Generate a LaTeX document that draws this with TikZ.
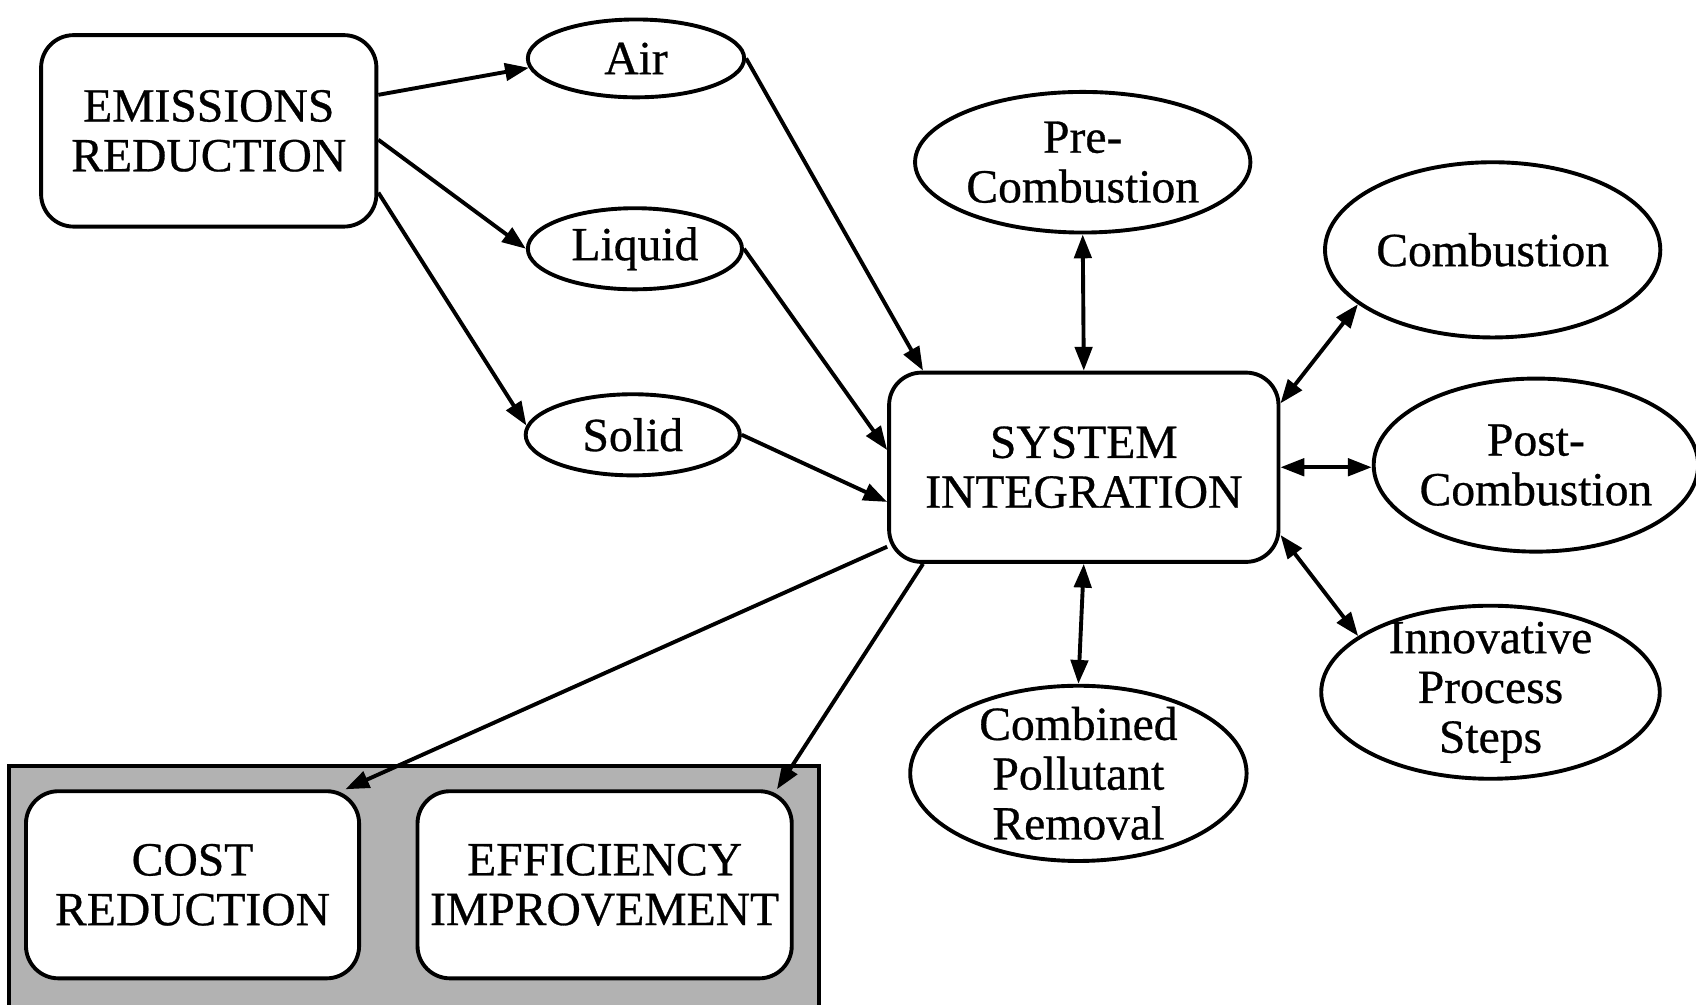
\documentclass[tikz,border=0pt]{standalone}
\usepackage{fontspec}
\setmainfont{Liberation Serif}[FakeBold=0.6]
\usetikzlibrary{shapes.geometric,arrows.meta}

\begin{document}
\begin{tikzpicture}[x=0.5pt,y=-0.5pt,line width=1.8pt,
	>={Triangle[length=11pt,width=8pt]},
	every node/.style={font=\fontsize{22}{23}\selectfont,align=center},
	box/.style={draw,rounded corners=15pt,inner sep=2pt,fill=white},
	oval/.style={draw,ellipse,inner sep=-6pt,fill=white}]

	\useasboundingbox (0,0) rectangle (1568,929);

	\fill[black!30] (8,708) rectangle (757,929);
	\draw (8,929) |- (757,708) -- (757,929);

	\node[box,minimum width=155pt,minimum height=88.5pt] (emis) at (193,121) {EMISSIONS\\REDUCTION};
	\node[box,minimum width=180pt,minimum height=87.5pt] (sysint) at (1002,432) {SYSTEM\\INTEGRATION};
	\node[box,minimum width=154pt,minimum height=86.5pt] (cost) at (178,818) {COST\\REDUCTION};
	\node[box,minimum width=173pt,minimum height=86.5pt] (effic) at (559,818) {EFFICIENCY\\IMPROVEMENT};

	\node[oval,minimum width=100pt,minimum height=36pt] (air) at (588,54) {Air};
	\node[oval,minimum width=99pt,minimum height=37.5pt] (liquid) at (587,230) {Liquid};
	\node[oval,minimum width=99pt,minimum height=37.5pt] (solid) at (585,402) {Solid};

	\node[oval,minimum width=155pt,minimum height=65pt] (precomb) at (1001,150) {Pre-\\Combustion};
	\node[oval,minimum width=155pt,minimum height=81pt] (comb) at (1380,231) {Combustion};
	\node[oval,minimum width=150pt,minimum height=80pt] (postcomb) at (1420,430) {Post-\\Combustion};
	\node[oval,minimum width=156.5pt,minimum height=80pt] (innov) at (1378,640) {Innovative\\Process\\Steps};
	\node[oval,minimum width=155.5pt,minimum height=81pt] (combined) at (997,715) {Combined\\Pollutant\\Removal};

	\draw [->](emis.12) -- (air.185);
	\draw [->](emis.-3) -- (liquid.180);
	\draw [->](emis.-20) -- (solid.175);

	\draw [->](air.east) -- (sysint.149);
	\draw [->](liquid.east) -- (sysint.175);
	\draw [->](solid.east) -- (sysint.190);

	\draw [<->](sysint.north) -- (precomb.south);
	\draw [<->](sysint.18) -- (comb.202);
	\draw [<->](sysint.east) -- (postcomb.west |- sysint.east);
	\draw [<->](sysint.-19) -- (innov.157);
	\draw [<->](sysint.south) -- (combined.north);

	\draw [->](sysint.202) -- (cost.32);
	\draw [->](sysint.211) -- (effic.29);
\end{tikzpicture}
\end{document}
